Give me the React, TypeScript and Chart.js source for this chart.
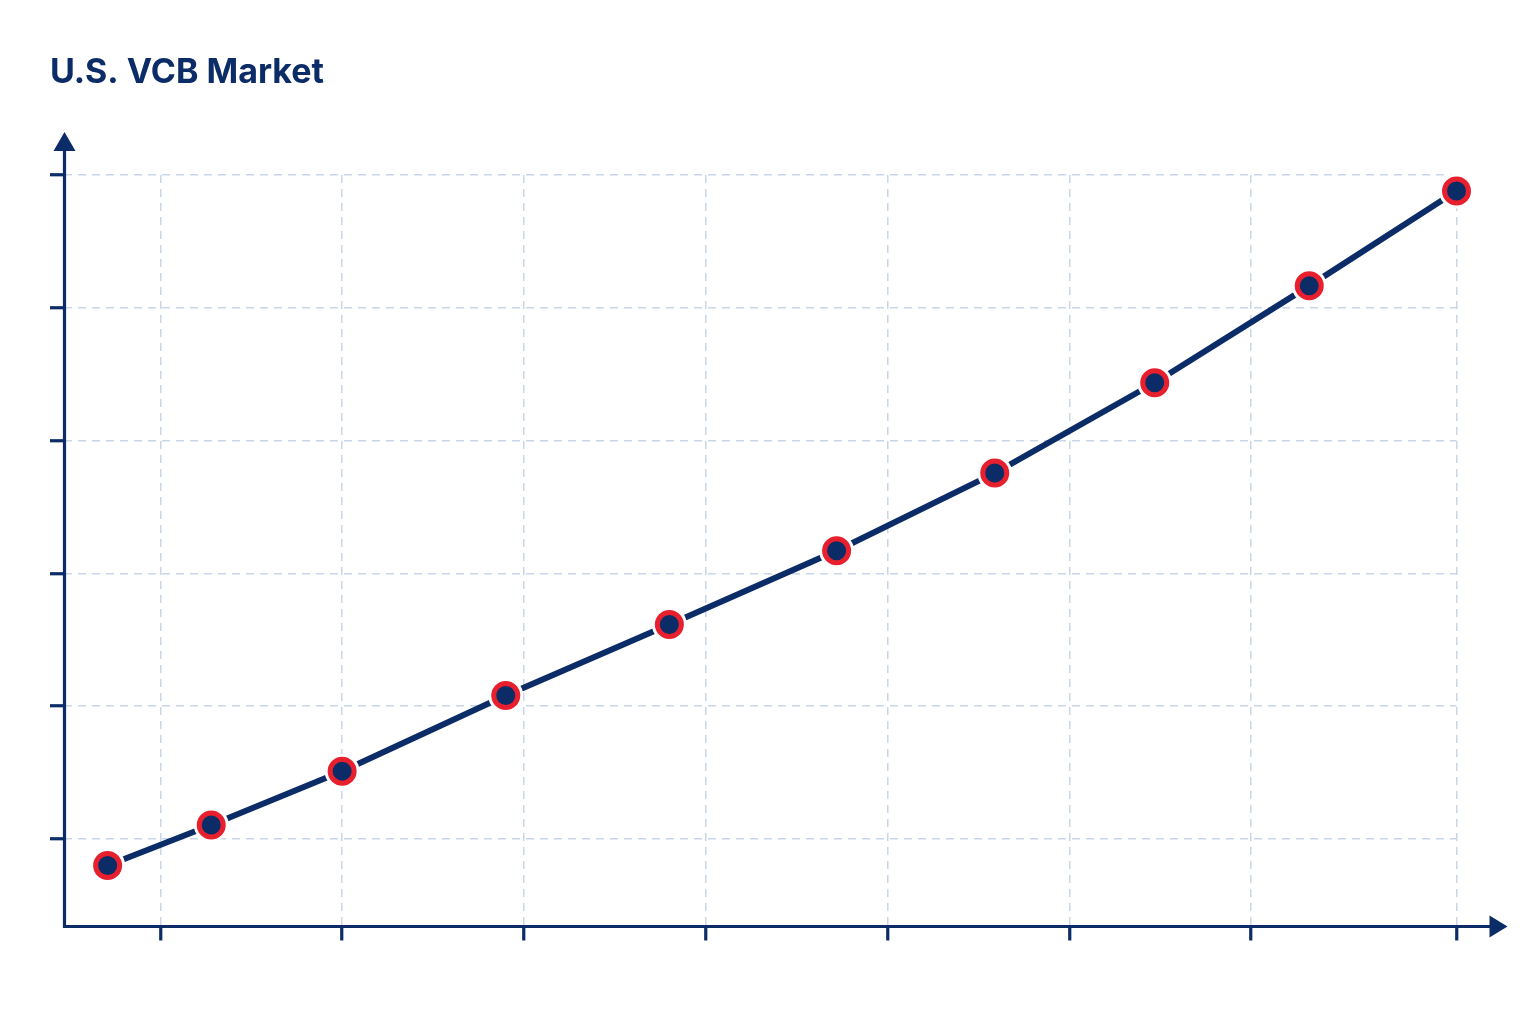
import { useEffect, useRef } from 'react';
import { Chart, registerables } from 'chart.js';

Chart.register(...registerables);

// Data (arbitrary units: x grid lines at 1..7, y grid lines at 10..60)
const xValues = [0.71, 1.28, 2.0, 2.9, 3.8, 4.72, 5.59, 6.47, 7.32, 8.13];
const yValues = [8.0, 11.05, 15.1, 20.8, 26.15, 31.7, 37.55, 44.35, 51.65, 58.8];
const xTicks = [1, 2, 3, 4, 5, 6, 7, 8.13];
const yTicks = [10, 20, 30, 40, 50, 60];
const xMin = 0.47;
const xMax = 8.13;
const yMin = 3.4;
const yMax = 60;

const NAVY = '#0c2c68';
const RED = '#e8202e';
const GRID = '#c8d6e8';

// axis lines with arrow heads
const axesPlugin = {
    id: 'arrowAxes',
    beforeDatasetsDraw(chart: Chart) {
        const { ctx, chartArea } = chart;
        const { left, right, top, bottom } = chartArea;
        ctx.save();
        ctx.strokeStyle = NAVY;
        ctx.fillStyle = NAVY;
        ctx.lineWidth = 3.2;
        ctx.lineCap = 'butt';

        // y axis
        ctx.beginPath();
        ctx.moveTo(left + 0.5, bottom + 1.6);
        ctx.lineTo(left + 0.5, top - 26);
        ctx.stroke();
        ctx.beginPath();
        ctx.moveTo(left + 0.5, top - 43);
        ctx.lineTo(left - 10.5, top - 24);
        ctx.lineTo(left + 11.5, top - 24);
        ctx.closePath();
        ctx.fill();

        // x axis
        ctx.beginPath();
        ctx.moveTo(left - 1, bottom);
        ctx.lineTo(right + 35, bottom);
        ctx.stroke();
        ctx.beginPath();
        ctx.moveTo(right + 51, bottom);
        ctx.lineTo(right + 33, bottom - 11);
        ctx.lineTo(right + 33, bottom + 11);
        ctx.closePath();
        ctx.fill();
        ctx.restore();
    },
};

const App = () => {
    const canvasRef = useRef<HTMLCanvasElement>(null);
    const chartRef = useRef<Chart | null>(null);

    useEffect(() => {
        if (!canvasRef.current) return;
        const ctx = canvasRef.current.getContext('2d');
        if (!ctx) return;

        const points = xValues.map((x, i) => ({ x, y: yValues[i] }));

        if (chartRef.current) chartRef.current.destroy();

        chartRef.current = new Chart(ctx, {
            type: 'line',
            data: {
                datasets: [
                    {
                        // the line itself
                        data: points,
                        borderColor: NAVY,
                        borderWidth: 6,
                        pointRadius: 0,
                        tension: 0,
                        clip: false,
                        order: 3,
                    },
                    {
                        // white halo that cuts the line around each marker
                        data: points,
                        showLine: false,
                        pointRadius: 17.5,
                        pointBorderWidth: 0,
                        pointBackgroundColor: '#ffffff',
                        clip: false,
                        order: 2,
                    },
                    {
                        // markers
                        data: points,
                        showLine: false,
                        pointRadius: 12,
                        pointBorderWidth: 5,
                        pointBorderColor: RED,
                        pointBackgroundColor: NAVY,
                        clip: false,
                        order: 1,
                    },
                ],
            },
            options: {
                animation: false,
                responsive: true,
                maintainAspectRatio: false,
                layout: { padding: { left: 50, right: 79.5, top: 20, bottom: 83.5 } },
                plugins: {
                    legend: { display: false },
                    tooltip: { enabled: false },
                    title: {
                        display: true,
                        text: 'U.S. VCB Market',
                        align: 'start',
                        color: NAVY,
                        font: { family: 'Inter, Roboto, sans-serif', size: 34, weight: 'bold', lineHeight: 1.2 },
                        padding: { top: 32.5, bottom: 81.7 },
                    },
                },
                scales: {
                    x: {
                        type: 'linear',
                        min: xMin,
                        max: xMax,
                        afterBuildTicks: (scale: any) => {
                            scale.ticks = xTicks.map(v => ({ value: v }));
                        },
                        ticks: { display: false },
                        border: { display: false, dash: [8, 6] },
                        grid: {
                            color: GRID,
                            lineWidth: 1.5,
                            drawTicks: true,
                            tickLength: 14,
                            tickColor: NAVY,
                            tickWidth: 3.2,
                            tickBorderDash: [],
                        },
                    },
                    y: {
                        type: 'linear',
                        min: yMin,
                        max: yMax,
                        afterBuildTicks: (scale: any) => {
                            scale.ticks = yTicks.map(v => ({ value: v }));
                        },
                        ticks: { display: false },
                        border: { display: false, dash: [8, 6] },
                        grid: {
                            color: GRID,
                            lineWidth: 1.5,
                            drawTicks: true,
                            tickLength: 14,
                            tickColor: NAVY,
                            tickWidth: 3.2,
                            tickBorderDash: [],
                        },
                    },
                },
            },
            plugins: [axesPlugin],
        });

        return () => {
            if (chartRef.current) {
                chartRef.current.destroy();
                chartRef.current = null;
            }
        };
    }, []);

    return (
        <div style={{ position: 'fixed', left: 0, top: 0, width: 1536, height: 1024, background: '#ffffff' }}>
            <canvas ref={canvasRef}></canvas>
        </div>
    );
};

export default App;
